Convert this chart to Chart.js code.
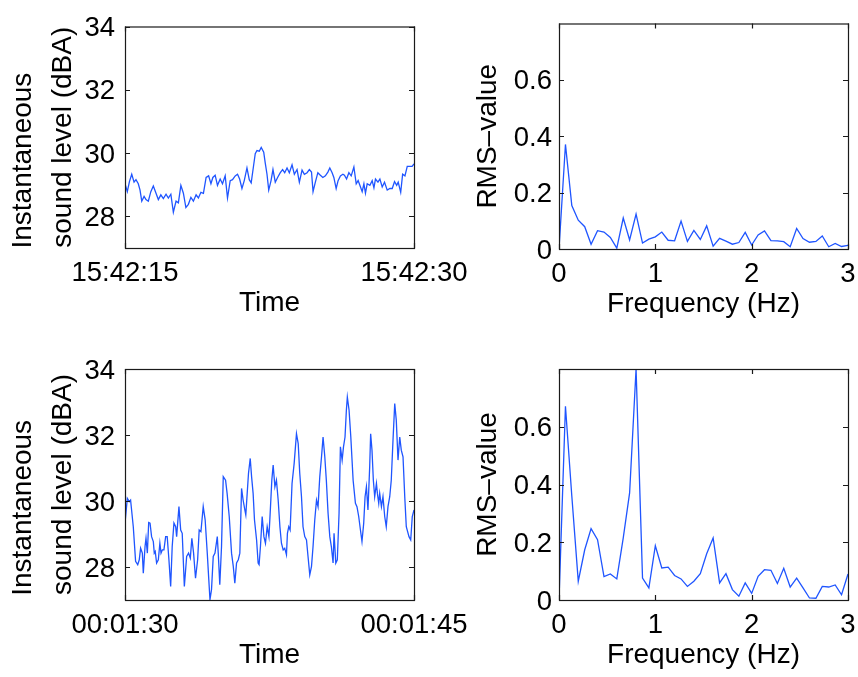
<!DOCTYPE html>
<html>
<head>
<meta charset="utf-8">
<script src="https://cdn.jsdelivr.net/npm/chart.js@4/dist/chart.umd.min.js"></script>
<style>
  body { margin: 0; background: #fff; }
  #figura { position: relative; width: 858px; height: 677px; }
  #figura canvas { position: absolute; left: 0; top: 0; }
</style>
</head>
<body>
<div id="figura">
  <canvas id="nivelArriba" width="858" height="677"></canvas>
  <canvas id="espectroArriba" width="858" height="677"></canvas>
  <canvas id="nivelAbajo" width="858" height="677"></canvas>
  <canvas id="espectroAbajo" width="858" height="677"></canvas>
</div>
<script>
// Nivel sonoro instantáneo, primer registro (segundos desde 15:42:15, dBA)
const tiemposArriba = [0.00, 0.12, 0.23, 0.35, 0.47, 0.57, 0.69, 0.78, 0.87, 0.99, 1.09, 1.21, 1.34, 1.47, 1.61, 1.73, 1.86, 1.99, 2.13, 2.25,
  2.38, 2.51, 2.65, 2.77, 2.90, 3.03, 3.16, 3.29, 3.42, 3.55, 3.69, 3.81, 3.94, 4.07, 4.21, 4.34, 4.46, 4.56, 4.68, 4.80,
  4.94, 5.06, 5.20, 5.32, 5.46, 5.58, 5.72, 5.84, 5.95, 6.07, 6.19, 6.33, 6.45, 6.55, 6.68, 6.76, 6.85, 6.97, 7.07, 7.20,
  7.28, 7.37, 7.46, 7.58, 7.68, 7.80, 7.92, 8.06, 8.18, 8.29, 8.41, 8.53, 8.67, 8.79, 8.93, 9.05, 9.19, 9.31, 9.45, 9.57,
  9.68, 9.76, 9.88, 10.01, 10.14, 10.27, 10.40, 10.53, 10.63, 10.75, 10.84, 10.96, 11.06, 11.18, 11.31, 11.39, 11.50, 11.62, 11.74, 11.88,
  12.00, 12.10, 12.19, 12.31, 12.40, 12.48, 12.57, 12.71, 12.83, 12.92, 13.00, 13.13, 13.23, 13.35, 13.47, 13.61, 13.75, 13.87, 13.99, 14.10,
  14.18, 14.31, 14.41, 14.53, 14.65, 14.77, 14.90, 15.00];
const nivelesArriba = [29.03, 28.78, 29.10, 29.33, 29.08, 29.16, 29.03, 28.83, 28.48, 28.63, 28.53, 28.48, 28.78, 28.96, 28.73, 28.53, 28.68, 28.56, 28.70, 28.58,
  28.70, 28.13, 28.48, 28.43, 28.98, 28.73, 28.28, 28.38, 28.60, 28.48, 28.68, 28.58, 28.76, 28.73, 29.23, 29.28, 29.03, 29.23, 29.30, 28.98,
  29.18, 29.03, 29.28, 28.58, 29.13, 29.16, 29.28, 29.33, 29.18, 28.88, 29.13, 29.53, 29.16, 29.06, 29.63, 29.98, 30.08, 30.06, 30.18, 30.03,
  29.68, 29.33, 28.83, 29.13, 29.48, 29.08, 29.23, 29.38, 29.48, 29.38, 29.53, 29.38, 29.63, 29.33, 29.48, 29.08, 29.46, 29.33, 29.38, 29.48,
  29.40, 28.78, 29.08, 29.38, 29.30, 29.23, 29.28, 29.40, 29.53, 29.38, 29.23, 28.88, 29.13, 29.28, 29.33, 29.30, 29.18, 29.38, 29.28, 29.56,
  29.03, 29.13, 28.98, 28.78, 29.03, 28.73, 29.03, 28.98, 29.13, 28.90, 29.18, 29.08, 29.18, 28.93, 29.08, 28.83, 28.88, 28.88, 29.10, 28.98,
  29.08, 28.76, 29.33, 29.28, 29.58, 29.58, 29.58, 29.66];

// Segundo registro (segundos desde 00:01:30, dBA)
const tiemposAbajo = [0.00, 0.12, 0.22, 0.29, 0.43, 0.55, 0.66, 0.74, 0.81, 0.90, 0.95, 1.04, 1.09, 1.16, 1.23, 1.30, 1.38, 1.47, 1.52, 1.57,
  1.64, 1.73, 1.81, 1.87, 1.94, 2.02, 2.11, 2.19, 2.28, 2.37, 2.45, 2.54, 2.63, 2.68, 2.80, 2.89, 2.97, 3.08, 3.20, 3.30,
  3.39, 3.47, 3.56, 3.66, 3.77, 3.85, 3.94, 4.06, 4.16, 4.27, 4.35, 4.41, 4.49, 4.58, 4.67, 4.79, 4.84, 4.92, 5.01, 5.10,
  5.22, 5.30, 5.41, 5.53, 5.62, 5.70, 5.79, 5.88, 5.96, 6.05, 6.13, 6.22, 6.27, 6.32, 6.41, 6.50, 6.57, 6.65, 6.72, 6.83,
  6.91, 6.96, 7.03, 7.12, 7.21, 7.29, 7.38, 7.47, 7.53, 7.62, 7.69, 7.78, 7.86, 7.95, 8.04, 8.12, 8.21, 8.29, 8.38, 8.43,
  8.50, 8.57, 8.67, 8.78, 8.90, 8.99, 9.07, 9.16, 9.24, 9.33, 9.42, 9.50, 9.59, 9.68, 9.76, 9.85, 9.94, 10.02, 10.11, 10.20,
  10.28, 10.37, 10.45, 10.54, 10.63, 10.71, 10.80, 10.85, 10.94, 11.02, 11.11, 11.18, 11.27, 11.34, 11.42, 11.49, 11.54, 11.63, 11.72, 11.84,
  11.96, 12.04, 12.13, 12.22, 12.30, 12.39, 12.46, 12.53, 12.61, 12.70, 12.75, 12.82, 12.89, 12.96, 13.05, 13.10, 13.17, 13.22, 13.31, 13.39,
  13.48, 13.56, 13.65, 13.74, 13.82, 13.91, 14.00, 14.08, 14.17, 14.26, 14.34, 14.43, 14.52, 14.60, 14.74, 14.83, 14.91, 15.00];
const nivelesAbajo = [29.33, 30.08, 29.98, 30.03, 29.22, 28.17, 28.07, 28.22, 28.57, 28.42, 27.81, 28.62, 28.87, 28.42, 29.35, 29.33, 28.92, 28.77, 28.42, 28.47,
  28.12, 28.22, 28.72, 28.42, 28.52, 28.52, 28.92, 28.92, 28.22, 27.41, 28.62, 29.33, 29.22, 28.92, 29.83, 29.12, 29.02, 27.41, 28.32, 28.42,
  28.27, 28.87, 28.42, 27.66, 28.22, 29.12, 29.07, 29.83, 29.43, 28.42, 27.61, 27.01, 27.31, 28.32, 28.42, 28.92, 28.42, 27.46, 28.62, 30.74,
  30.63, 30.23, 29.53, 28.42, 28.02, 27.51, 28.12, 28.22, 28.42, 30.38, 30.03, 29.73, 29.58, 30.03, 30.84, 31.29, 30.74, 30.23, 29.43, 28.82,
  28.12, 28.07, 28.62, 29.53, 28.92, 28.72, 29.22, 28.92, 29.58, 30.63, 31.09, 30.43, 30.63, 30.03, 29.22, 28.72, 28.52, 28.57, 28.37, 29.02,
  29.22, 29.12, 30.53, 31.14, 32.04, 31.74, 30.84, 30.13, 29.22, 28.92, 28.82, 28.32, 27.76, 28.02, 28.62, 29.43, 30.03, 29.83, 30.74, 31.34,
  31.94, 31.34, 30.63, 29.63, 28.92, 28.62, 28.12, 29.02, 28.12, 28.22, 29.63, 31.64, 31.24, 31.64, 31.94, 32.75, 33.15, 32.75, 31.94, 30.63,
  29.93, 29.83, 29.53, 29.12, 28.77, 29.33, 30.13, 30.43, 29.73, 31.04, 32.04, 31.54, 30.63, 30.13, 30.53, 30.23, 29.93, 30.23, 29.83, 30.13,
  29.53, 29.22, 29.83, 30.13, 30.63, 31.84, 32.95, 32.45, 31.24, 31.94, 31.54, 31.34, 30.13, 29.22, 28.92, 28.82, 29.53, 29.73];

// Espectros (Hz, valor RMS)
const frecuencias = [0, 0.067, 0.133, 0.2, 0.267, 0.333, 0.4, 0.467, 0.533, 0.6, 0.667, 0.733, 0.8, 0.867, 0.933, 1,
  1.067, 1.133, 1.2, 1.267, 1.333, 1.4, 1.467, 1.533, 1.6, 1.667, 1.733, 1.8, 1.867, 1.933, 2,
  2.067, 2.133, 2.2, 2.267, 2.333, 2.4, 2.467, 2.533, 2.6, 2.667, 2.733, 2.8, 2.867, 2.933, 3];
const rmsArriba = [0, 0.371, 0.154, 0.102, 0.079, 0.017, 0.065, 0.060, 0.041, 0.003, 0.110, 0.032, 0.124, 0.021, 0.035, 0.043,
  0.060, 0.031, 0.029, 0.099, 0.027, 0.066, 0.034, 0.082, 0.010, 0.038, 0.028, 0.017, 0.023, 0.059, 0.014,
  0.050, 0.064, 0.030, 0.029, 0.026, 0.008, 0.073, 0.037, 0.024, 0.027, 0.046, 0.008, 0.020, 0.009, 0.013];
const rmsAbajo = [0, 0.671, 0.36, 0.065, 0.174, 0.247, 0.209, 0.081, 0.090, 0.073, 0.215, 0.371, 0.80, 0.076, 0.042, 0.188,
  0.111, 0.114, 0.085, 0.073, 0.047, 0.065, 0.091, 0.160, 0.215, 0.059, 0.091, 0.036, 0.013, 0.059, 0.023,
  0.082, 0.105, 0.103, 0.057, 0.110, 0.045, 0.076, 0.042, 0.007, 0.006, 0.047, 0.045, 0.052, 0.018, 0.090];

// Marcas de los ejes
const ticksNivel = [28, 30, 32, 34];
const ticksRms = [0, 0.2, 0.4, 0.6];
const etiquetasRms = ['0', '0.2', '0.4', '0.6'];
const ticksFrecuencia = [0, 1, 2, 3];
const ticksTiempo = [0, 15];
const etiquetasTiempoArriba = ['15:42:15', '15:42:30'];
const etiquetasTiempoAbajo = ['00:01:30', '00:01:45'];

const fuente = '"Liberation Sans", Helvetica, Arial, sans-serif';
const azul = '#1f55ff';
const ANCHO = 858;
const ALTO = 677;
const ALTO_EJE_X = 82;

// Caja del eje con marcas hacia dentro en los cuatro lados (estilo Matlab)
const marcoConTicks = {
    id: 'marcoConTicks',
    afterDatasetsDraw(chart) {
        const { ctx, chartArea: a, scales: { x, y } } = chart;
        ctx.save();
        ctx.strokeStyle = '#1a1a1a';
        ctx.lineWidth = 1.2;
        ctx.beginPath();
        x.ticks.forEach(t => {
            const px = Math.round(x.getPixelForValue(t.value)) + 0.5;
            ctx.moveTo(px, a.bottom);
            ctx.lineTo(px, a.bottom - 5);
            ctx.moveTo(px, a.top);
            ctx.lineTo(px, a.top + 5);
        });
        y.ticks.forEach(t => {
            const py = Math.round(y.getPixelForValue(t.value)) + 0.5;
            ctx.moveTo(a.left, py);
            ctx.lineTo(a.left + 5, py);
            ctx.moveTo(a.right, py);
            ctx.lineTo(a.right - 5, py);
        });
        ctx.stroke();
        ctx.strokeRect(a.left + 0.5, a.top + 0.5, a.right - a.left, a.bottom - a.top);
        ctx.restore();
    }
};

// Crear un panel en su propio canvas, fijando el área del gráfico
const crearPanel = (id, p) => {
    new Chart(document.getElementById(id), {
        type: 'line',
        data: {
            datasets: [{
                data: p.xs.map((v, i) => ({ x: v, y: p.ys[i] })),
                borderColor: azul,
                borderWidth: 1.3,
                pointRadius: 0,
                tension: 0,
                fill: false
            }]
        },
        options: {
            responsive: false,
            animation: false,
            events: [],
            layout: {
                padding: {
                    left: p.area.left - p.anchoY,
                    top: p.area.top,
                    right: ANCHO - p.area.right,
                    bottom: ALTO - p.area.bottom - ALTO_EJE_X
                }
            },
            plugins: {
                legend: { display: false },
                tooltip: { enabled: false }
            },
            scales: {
                x: {
                    type: 'linear',
                    min: p.xTicks[0],
                    max: p.xTicks[p.xTicks.length - 1],
                    grid: { display: false, drawTicks: false },
                    border: { display: false },
                    afterBuildTicks: s => { s.ticks = p.xTicks.map(v => ({ value: v })); },
                    afterFit: s => { s.height = ALTO_EJE_X; },
                    ticks: {
                        autoSkip: false,
                        maxRotation: 0,
                        // sin padding para que la última etiqueta no encoja el área
                        padding: 0,
                        color: '#000',
                        font: { family: fuente, size: 27.5, lineHeight: 1.86 },
                        callback: (v, i) => p.xEtiquetas[i]
                    },
                    title: {
                        display: true,
                        text: p.tituloX,
                        color: '#000',
                        font: { family: fuente, size: 28, lineHeight: 1.4 },
                        padding: { top: 0, bottom: 7 }
                    }
                },
                y: {
                    type: 'linear',
                    min: p.yMin,
                    max: p.yMax,
                    grid: { display: false, drawTicks: false },
                    border: { display: false },
                    afterBuildTicks: s => { s.ticks = p.yTicks.map(v => ({ value: v })); },
                    afterFit: s => { s.width = p.anchoY; },
                    ticks: {
                        autoSkip: false,
                        padding: p.padTickY,
                        labelOffset: 2,
                        color: '#000',
                        font: { family: fuente, size: 27.5, lineHeight: 1.2 },
                        callback: (v, i) => p.yEtiquetas[i]
                    },
                    title: {
                        display: true,
                        text: p.tituloY,
                        color: '#000',
                        font: { family: fuente, size: 28, lineHeight: 1.4 },
                        padding: { top: p.padTituloY, bottom: 0 }
                    }
                }
            }
        },
        plugins: [marcoConTicks]
    });
};

const tituloNivel = ['Instantaneous      ', 'sound level (dBA)'];

const inicializarFigura = () => {
    crearPanel('nivelArriba', {
        xs: tiemposArriba, ys: nivelesArriba,
        area: { left: 125, top: 17, right: 414, bottom: 248 },
        xTicks: ticksTiempo, xEtiquetas: etiquetasTiempoArriba,
        yMin: 27, yMax: 34, yTicks: ticksNivel, yEtiquetas: ticksNivel.map(String),
        tituloX: 'Time', tituloY: tituloNivel,
        anchoY: 125, padTickY: 10, padTituloY: 4
    });
    crearPanel('espectroArriba', {
        xs: frecuencias, ys: rmsArriba,
        area: { left: 559, top: 18, right: 848, bottom: 249 },
        xTicks: ticksFrecuencia, xEtiquetas: ticksFrecuencia.map(String),
        yMin: 0, yMax: 0.8, yTicks: ticksRms, yEtiquetas: etiquetasRms,
        tituloX: 'Frequency (Hz)', tituloY: 'RMS–value',
        anchoY: 109, padTickY: 7, padTituloY: 19
    });
    crearPanel('nivelAbajo', {
        xs: tiemposAbajo, ys: nivelesAbajo,
        area: { left: 125, top: 369, right: 414, bottom: 600 },
        xTicks: ticksTiempo, xEtiquetas: etiquetasTiempoAbajo,
        yMin: 27, yMax: 34, yTicks: ticksNivel, yEtiquetas: ticksNivel.map(String),
        tituloX: 'Time', tituloY: tituloNivel,
        anchoY: 125, padTickY: 10, padTituloY: 4
    });
    crearPanel('espectroAbajo', {
        xs: frecuencias, ys: rmsAbajo,
        area: { left: 559, top: 369, right: 848, bottom: 600 },
        xTicks: ticksFrecuencia, xEtiquetas: ticksFrecuencia.map(String),
        yMin: 0, yMax: 0.8, yTicks: ticksRms, yEtiquetas: etiquetasRms,
        tituloX: 'Frequency (Hz)', tituloY: 'RMS–value',
        anchoY: 109, padTickY: 7, padTituloY: 19
    });
};

inicializarFigura();
</script>
</body>
</html>
